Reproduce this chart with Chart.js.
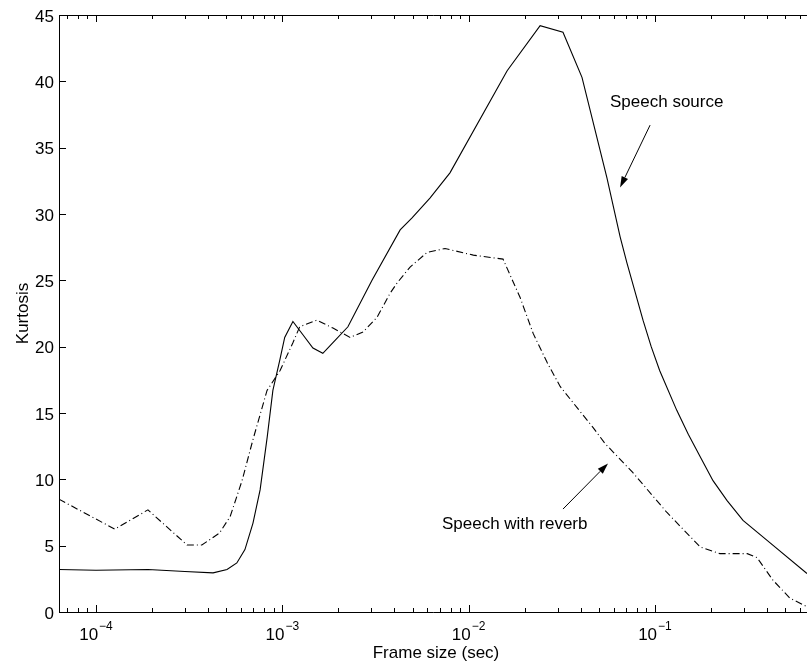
<!DOCTYPE html>
<html>
<head>
<meta charset="utf-8">
<script src="https://cdn.jsdelivr.net/npm/chart.js@4"></script>
<style>
  html, body { margin: 0; padding: 0; background: #fff; }
  canvas { display: block; }
</style>
</head>
<body>
<canvas id="kurtChart" width="807" height="668"></canvas>
<script>
// frame size (s) vs kurtosis, clean speech source
const sourceFrame = [6.33e-5, 1.0e-4, 1.9e-4, 3.0e-4, 4.25e-4, 5.05e-4, 5.7e-4, 6.3e-4, 6.96e-4, 7.6e-4,
  8.3e-4, 8.9e-4, 9.7e-4, 1.03e-3, 1.14e-3, 1.29e-3, 1.46e-3, 1.65e-3, 1.87e-3, 2.25e-3,
  3.03e-3, 4.29e-3, 4.97e-3, 6.2e-3, 7.94e-3, 0.0161, 0.0242, 0.0321, 0.0406, 0.0553,
  0.065, 0.0708, 0.0863, 0.0955, 0.106, 0.131, 0.151, 0.175, 0.205, 0.244, 0.297, 0.4, 0.655];
const sourceKurt = [3.2, 3.15, 3.2, 3.05, 2.95, 3.2, 3.7, 4.7, 6.7, 9.2,
  13.2, 16.7, 19.0, 20.7, 21.9, 20.9, 19.9, 19.5, 20.3, 21.5,
  25.0, 28.8, 29.7, 31.2, 33.1, 40.8, 44.2, 43.7, 40.3, 32.7,
  28.3, 26.3, 22.0, 20.0, 18.2, 15.2, 13.4, 11.7, 9.9, 8.4, 6.9, 5.4, 2.9];

// same measurement with reverberation
const reverbFrame = [6.33e-5, 1.26e-4, 1.9e-4, 3.08e-4, 3.7e-4, 4.6e-4, 5.25e-4, 6.08e-4, 6.96e-4, 8.28e-4,
  9.73e-4, 1.14e-3, 1.24e-3, 1.53e-3, 1.87e-3, 2.31e-3, 2.71e-3, 3.22e-3, 3.78e-3, 4.13e-3,
  4.85e-3, 5.98e-3, 7.47e-3, 0.0106, 0.0153, 0.0189, 0.0222, 0.0264, 0.031, 0.0382,
  0.0466, 0.054, 0.0762, 0.116, 0.175, 0.223, 0.313, 0.353, 0.43, 0.53, 0.655];
const reverbKurt = [8.5, 6.25, 7.7, 5.05, 5.05, 5.95, 7.2, 9.9, 13.0, 16.7,
  18.2, 20.3, 21.5, 22.0, 21.4, 20.7, 21.1, 22.2, 24.0, 24.8,
  26.0, 27.1, 27.4, 26.9, 26.6, 23.7, 21.0, 18.8, 17.0, 15.4,
  13.9, 12.7, 10.5, 7.5, 4.9, 4.4, 4.4, 4.1, 2.4, 1.05, 0.4];

const xMin = 6.33e-5, xMax = 0.655;
const yTicks = [0, 5, 10, 15, 20, 25, 30, 35, 40, 45];
const decadeExps = [-4, -3, -2, -1];

// callouts: [label, text x, text y, arrow start x, y, arrow tip x, y]
const callouts = [
  ['Speech source', 0.0574, 38.4, 0.0942, 36.7, 0.065, 32.0],
  ['Speech with reverb', 0.00719, 6.6, 0.0321, 7.76, 0.056, 11.2]
];

const FONT = "'Liberation Sans', Arial, Helvetica, sans-serif";

const toPoints = (xs, ys) => xs.map((x, i) => ({ x: x, y: ys[i] }));

function arrow(ctx, x0, y0, x1, y1) {
  const ang = Math.atan2(y1 - y0, x1 - x0);
  const len = 11, half = 3.5;
  ctx.beginPath();
  ctx.moveTo(x0, y0);
  ctx.lineTo(x1 - Math.cos(ang) * len, y1 - Math.sin(ang) * len);
  ctx.stroke();
  ctx.beginPath();
  ctx.moveTo(x1, y1);
  ctx.lineTo(x1 - Math.cos(ang) * len - Math.sin(ang) * half, y1 - Math.sin(ang) * len + Math.cos(ang) * half);
  ctx.lineTo(x1 - Math.cos(ang) * len + Math.sin(ang) * half, y1 - Math.sin(ang) * len - Math.cos(ang) * half);
  ctx.closePath();
  ctx.fill();
}

// matlab style box, inward ticks, 10^n labels and the text callouts
const matlabAxes = {
  id: 'matlabAxes',
  afterDraw(chart) {
    const ctx = chart.ctx;
    const xs = chart.scales.x, ys = chart.scales.y;
    const a = chart.chartArea;
    ctx.save();
    ctx.strokeStyle = '#000';
    ctx.fillStyle = '#000';
    ctx.lineWidth = 1;

    // box (right edge falls outside the canvas)
    ctx.beginPath();
    ctx.moveTo(a.right + 2, Math.round(a.top) + 0.5);
    ctx.lineTo(Math.round(a.left) + 0.5, Math.round(a.top) + 0.5);
    ctx.lineTo(Math.round(a.left) + 0.5, Math.round(a.bottom) + 0.5);
    ctx.lineTo(a.right + 2, Math.round(a.bottom) + 0.5);
    ctx.stroke();

    // x ticks, bottom and top
    ctx.beginPath();
    for (let k = -5; k <= 0; k++) {
      for (let m = 1; m <= 9; m++) {
        const v = m * Math.pow(10, k);
        if (v < xMin || v > xMax) continue;
        const px = Math.round(xs.getPixelForValue(v)) + 0.5;
        const len = m === 1 ? 7 : 4;
        ctx.moveTo(px, a.bottom);
        ctx.lineTo(px, a.bottom - len);
        ctx.moveTo(px, a.top);
        ctx.lineTo(px, a.top + len);
      }
    }
    // y ticks
    yTicks.forEach(v => {
      const py = Math.round(ys.getPixelForValue(v)) + 0.5;
      ctx.moveTo(a.left, py);
      ctx.lineTo(a.left + 7, py);
    });
    ctx.stroke();

    // y tick labels
    ctx.font = '17px ' + FONT;
    ctx.textAlign = 'right';
    ctx.textBaseline = 'middle';
    yTicks.forEach(v => {
      ctx.fillText(String(v), a.left - 5, ys.getPixelForValue(v) + 2);
    });

    // x tick labels as 10^n
    ctx.textBaseline = 'alphabetic';
    ctx.textAlign = 'left';
    decadeExps.forEach(e => {
      const px = xs.getPixelForValue(Math.pow(10, e));
      ctx.font = '17px ' + FONT;
      const wb = ctx.measureText('10').width;
      ctx.font = '12px ' + FONT;
      const sup = '\u2212' + Math.abs(e);
      const ws = ctx.measureText(sup).width;
      const x0 = px - (wb + ws + 1) / 2;
      ctx.font = '17px ' + FONT;
      ctx.fillText('10', x0, a.bottom + 28);
      ctx.font = '12px ' + FONT;
      ctx.fillText(sup, x0 + wb + 1, a.bottom + 18);
    });

    // axis titles
    ctx.font = '17px ' + FONT;
    ctx.textAlign = 'center';
    ctx.fillText('Frame size (sec)', (a.left + a.right) / 2 + 3, a.bottom + 46);
    ctx.save();
    ctx.translate(28, (a.top + a.bottom) / 2);
    ctx.rotate(-Math.PI / 2);
    ctx.fillText('Kurtosis', 0, 0);
    ctx.restore();

    // callouts
    ctx.textAlign = 'left';
    ctx.textBaseline = 'middle';
    callouts.forEach(c => {
      ctx.fillText(c[0], xs.getPixelForValue(c[1]), ys.getPixelForValue(c[2]));
      arrow(ctx, xs.getPixelForValue(c[3]), ys.getPixelForValue(c[4]),
        xs.getPixelForValue(c[5]), ys.getPixelForValue(c[6]));
    });
    ctx.restore();
  }
};

new Chart(document.getElementById('kurtChart'), {
  type: 'line',
  data: {
    datasets: [{
      label: 'Speech source',
      data: toPoints(sourceFrame, sourceKurt),
      borderColor: '#000',
      borderWidth: 1.1,
      pointRadius: 0,
      tension: 0
    },
    {
      label: 'Speech with reverb',
      data: toPoints(reverbFrame, reverbKurt),
      borderColor: '#000',
      borderWidth: 1.1,
      borderDash: [7, 3, 1, 3],
      pointRadius: 0,
      tension: 0
    }]
  },
  options: {
    responsive: false,
    animation: false,
    devicePixelRatio: 1,
    layout: { padding: { left: 59, top: 15, right: 0, bottom: 56 } },
    plugins: { legend: { display: false }, tooltip: { enabled: false } },
    scales: {
      x: { type: 'logarithmic', min: xMin, max: xMax, display: false },
      y: { type: 'linear', min: 0, max: 45, display: false }
    }
  },
  plugins: [matlabAxes]
});
</script>
</body>
</html>
